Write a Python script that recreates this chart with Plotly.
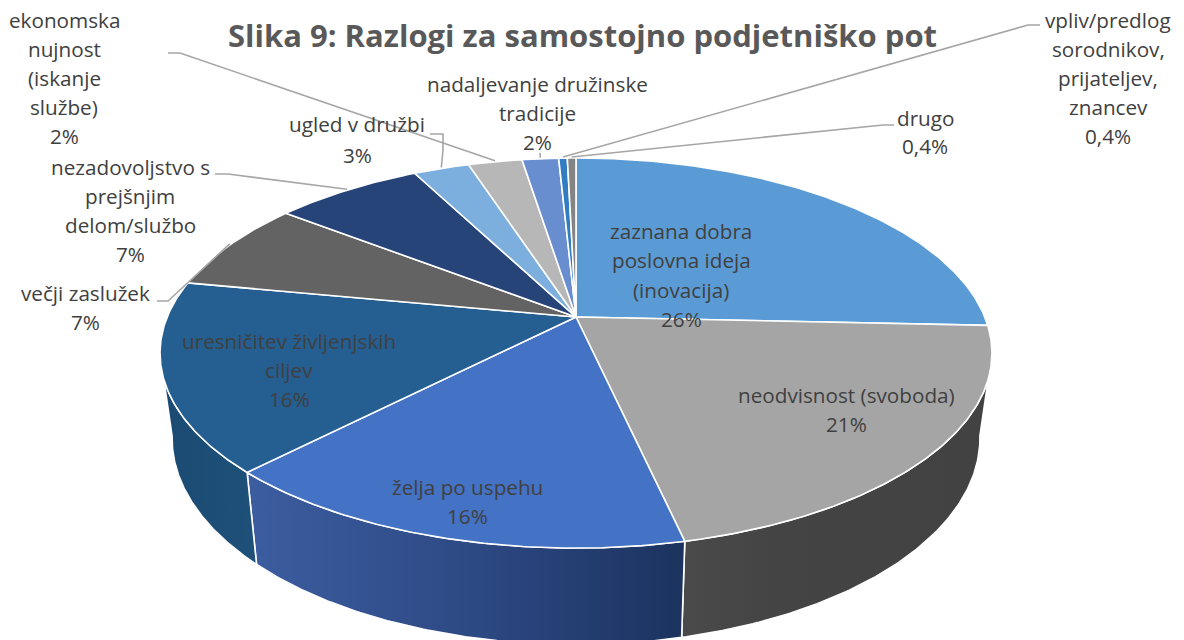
import numpy as np
import plotly.graph_objects as go

TITLE = "Slika 9: Razlogi za samostojno podjetniško pot"
categories = ["zaznana dobra poslovna ideja (inovacija)", "neodvisnost (svoboda)", "želja po uspehu",
              "uresničitev življenjskih ciljev", "večji zaslužek", "nezadovoljstvo s prejšnjim delom/službo",
              "ugled v družbi", "ekonomska nujnost (iskanje službe)", "nadaljevanje družinske tradicije",
              "vpliv/predlog sorodnikov, prijateljev, znancev", "drugo"]
values = [25.7, 20.8, 15.8, 15.7, 7.5, 6.9, 2.6, 2.5, 1.7, 0.4, 0.4]
percent_labels = ["26%", "21%", "16%", "16%", "7%", "7%", "3%", "2%", "2%", "0,4%", "0,4%"]
colors = ["#5B9BD5", "#A5A5A5", "#4472C4", "#255E91", "#636363", "#264478",
          "#7CAFDD", "#B7B7B7", "#698ED0", "#327DC2", "#848484"]
label_lines = [
    ["zaznana dobra", "poslovna ideja", "(inovacija)"], ["neodvisnost (svoboda)"], ["želja po uspehu"],
    ["uresničitev življenjskih", "ciljev"], ["večji zaslužek"], ["nezadovoljstvo s", "prejšnjim", "delom/službo"],
    ["ugled v družbi"], ["ekonomska", "nujnost", "(iskanje", "službe)"], ["nadaljevanje družinske", "tradicije"],
    ["vpliv/predlog", "sorodnikov,", "prijateljev,", "znancev"], ["drugo"]]
# label placement: centre x, y of first line, line step
label_pos = [(681, 231, 29.3), (846, 395, 29), (467, 487, 29), (289, 341, 29), (85, 293, 29), (130, 167, 29),
             (357, 124, 31), (64, 20, 29), (537, 84, 29), (1108, 20, 29), (925, 118, 28)]
# leader elbows (None = no leader)
leaders = [None, None, None, None, [(157, 301), (168, 301)], [(215, 174), (228, 174)], [(430, 134), (443, 134), (443, 150)],
           [(168, 53), (180, 53)], [(540, 153)], [(1040, 25), (1028, 25)], [(894, 125), (883, 125)]]

# projection of the pie disc
CX, CY, A, B, K = 576, 317, 408.8, 188.4, 0.1847
LA, LB, LY = 397, 199.4, 400


def top(t):
    c, s = np.cos(t), np.sin(t)
    return CX + A * s / (1 + K * c), CY - B * c / (1 + K * c)


def low(t):
    c, s = np.cos(t), np.sin(t)
    return CX + LA * s / (1 + K * c), LY - LB * c / (1 + K * c)


edges = np.cumsum([0] + values) / sum(values) * 2 * np.pi
fig = go.Figure()


def poly(x, y, **kw):
    fig.add_trace(go.Scatter(x=x, y=y, mode="lines", fill="toself", hoverinfo="skip", showlegend=False,
                             line=dict(color="white", width=1.6), **kw))


def wall(a, b, la, lb, **kw):
    tt = np.linspace(a, b, 120)
    lt = np.linspace(lb, la, 120)
    tx, ty = top(tt)
    lx, ly = low(lt)
    poly(np.r_[tx, lx, tx[0]], np.r_[ty, ly, ty[0]], **kw)


rad = np.deg2rad
wall(rad(108), edges[2], rad(100), edges[2], fillcolor="#434343",
     fillgradient=dict(type="horizontal", colorscale=[[0, "#4A4A4A"], [0.3, "#444444"], [1, "#424242"]]))
wall(edges[2], edges[3], edges[2], edges[3], fillcolor="#2E4A85",
     fillgradient=dict(type="horizontal", colorscale=[[0, "#3C5DA0"], [0.5, "#2E4A85"], [1, "#1C335F"]]))
wall(edges[3], rad(252), edges[3], rad(260), fillcolor="#1D4F78",
     fillgradient=dict(type="horizontal", colorscale=[[0, "#1B4B73"], [1, "#1E5079"]]))

for i in range(len(values)):
    n = max(8, int(values[i] * 8))
    t = np.linspace(edges[i], edges[i + 1], n)
    x, y = top(t)
    poly(np.r_[CX, x, CX], np.r_[CY, y, CY], fillcolor=colors[i])

# leader lines end on the rim of their slice
for i, pts in enumerate(leaders):
    if pts is None:
        continue
    ex, ey = top((edges[i] + edges[i + 1]) / 2)
    fig.add_trace(go.Scatter(x=[p[0] for p in pts] + [float(ex)], y=[p[1] for p in pts] + [float(ey) - 1],
                             mode="lines", line=dict(color="#A6A6A6", width=1.6), hoverinfo="skip", showlegend=False))

FONT = "Open Sans"
for i, (cx, y0, step) in enumerate(label_pos):
    for j, line in enumerate(label_lines[i] + [percent_labels[i]]):
        fig.add_annotation(x=cx, y=y0 + j * step, xref="x", yref="y", text=line, showarrow=False,
                           xanchor="center", yanchor="middle", font=dict(family=FONT, size=20.7, color="#404040"))
fig.add_annotation(x=582, y=35, xref="x", yref="y", text=TITLE, showarrow=False, xanchor="center", yanchor="middle",
                   font=dict(family=FONT, size=31, color="#595959", weight=700))

fig.update_xaxes(range=[0, 1184], visible=False, fixedrange=True)
fig.update_yaxes(range=[640, 0], visible=False, fixedrange=True)
fig.update_layout(width=1184, height=640, margin=dict(l=0, r=0, t=0, b=0), paper_bgcolor="white", plot_bgcolor="white")
fig.write_html("out.html", post_script="document.body.style.margin='0';", config=dict(displayModeBar=False))
